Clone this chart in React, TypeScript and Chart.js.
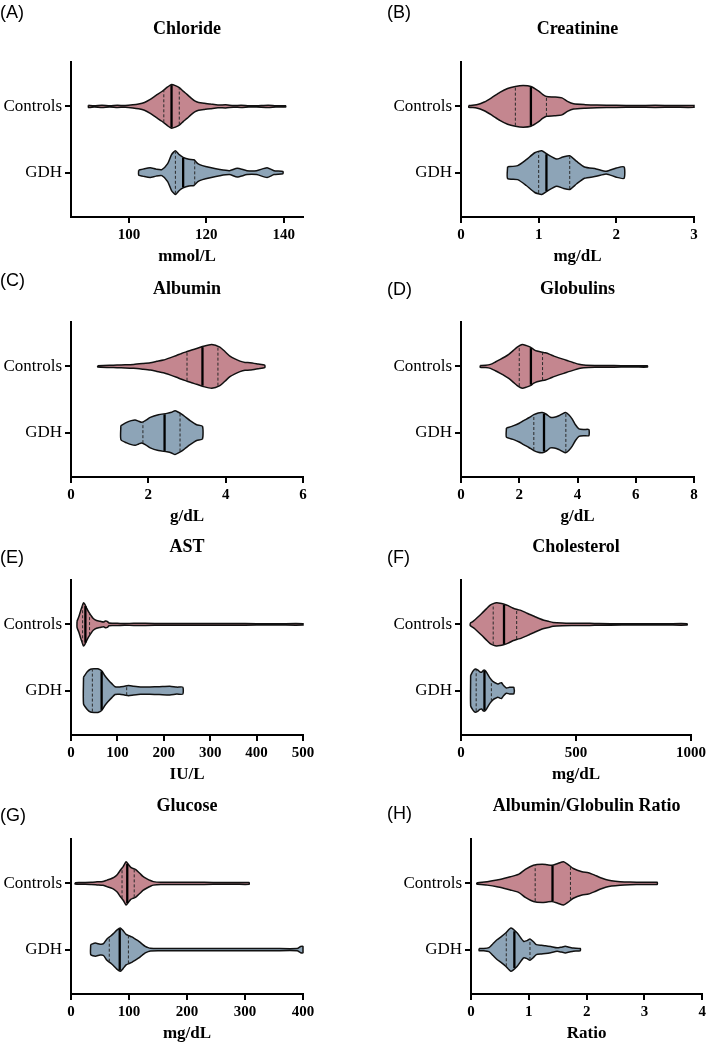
import React, { useEffect, useRef } from 'react';
import { Chart, registerables } from 'chart.js';

Chart.register(...registerables);

// ---------- data ----------
// x = measured value, w = relative violin half-width (1 = widest), q = [Q1, median, Q3]

// (A) Chloride, mmol/L
const chlorideCtrlX = [89.5, 91, 93, 95, 97, 99, 101, 102.5, 104, 105.5, 107, 108.5, 110, 111, 112, 113, 114, 115, 116, 117, 118, 119.5, 121, 123, 125, 127, 129, 131, 133, 136, 138, 140.5];
const chlorideCtrlW = [0.05, 0.03, 0.05, 0.03, 0.05, 0.04, 0.07, 0.11, 0.18, 0.32, 0.5, 0.68, 0.89, 1.0, 0.95, 0.86, 0.7, 0.55, 0.39, 0.25, 0.18, 0.14, 0.11, 0.06, 0.07, 0.04, 0.05, 0.03, 0.03, 0.05, 0.03, 0.03];
const chlorideCtrlQ = [109, 111, 113];
const chlorideGdhX = [102.5, 104, 105.5, 107, 108.5, 110, 111, 112, 113, 114, 115.5, 116.8, 117.8, 119, 121, 123.5, 126, 128, 130.5, 133, 135.7, 137.5, 139.8];
const chlorideGdhW = [0.11, 0.18, 0.22, 0.16, 0.14, 0.41, 0.82, 1.0, 0.82, 0.7, 0.61, 0.59, 0.41, 0.32, 0.23, 0.14, 0.09, 0.2, 0.09, 0.09, 0.22, 0.09, 0.05];
const chlorideGdhQ = [112, 114, 117];

// (B) Creatinine, mg/dL
const creatCtrlX = [0.1, 0.2, 0.3, 0.4, 0.5, 0.6, 0.7, 0.8, 0.9, 1.0, 1.05, 1.1, 1.2, 1.3, 1.37, 1.45, 1.6, 1.75, 2.0, 2.25, 2.5, 2.75, 3.0];
const creatCtrlW = [0.04, 0.07, 0.2, 0.41, 0.64, 0.82, 0.91, 0.95, 0.91, 0.7, 0.55, 0.45, 0.43, 0.39, 0.23, 0.12, 0.08, 0.06, 0.05, 0.04, 0.05, 0.04, 0.04];
const creatCtrlQ = [0.7, 0.9, 1.1];
const creatGdhX = [0.6, 0.73, 0.84, 0.95, 1.04, 1.12, 1.23, 1.31, 1.4, 1.49, 1.59, 1.74, 1.87, 2.0, 2.1];
const creatGdhW = [0.27, 0.32, 0.59, 0.91, 1.0, 0.82, 0.62, 0.71, 0.77, 0.51, 0.26, 0.17, 0.06, 0.21, 0.26];
const creatGdhQ = [1.0, 1.1, 1.4];

// (C) Albumin, g/dL
const albCtrlX = [0.69, 1.0, 1.19, 1.4, 1.62, 1.85, 2.05, 2.22, 2.39, 2.56, 2.73, 2.86, 2.99, 3.12, 3.25, 3.42, 3.64, 3.85, 3.98, 4.11, 4.24, 4.37, 4.5, 4.63, 4.84, 5.01];
const albCtrlW = [0.03, 0.05, 0.06, 0.07, 0.09, 0.13, 0.17, 0.23, 0.29, 0.39, 0.5, 0.59, 0.67, 0.75, 0.82, 0.92, 1.0, 0.88, 0.68, 0.47, 0.34, 0.24, 0.18, 0.17, 0.11, 0.06];
const albCtrlQ = [3.0, 3.4, 3.8];
const albGdhX = [1.29, 1.44, 1.56, 1.66, 1.75, 1.83, 1.94, 2.05, 2.26, 2.48, 2.6, 2.69, 2.78, 2.86, 2.97, 3.08, 3.25, 3.4];
const albGdhW = [0.32, 0.47, 0.55, 0.58, 0.52, 0.47, 0.57, 0.7, 0.82, 0.88, 0.93, 1.0, 0.93, 0.85, 0.7, 0.55, 0.36, 0.29];
const albGdhQ = [1.86, 2.42, 2.82];

// (D) Globulins, g/dL
const globCtrlX = [0.66, 0.85, 1.01, 1.18, 1.35, 1.5, 1.64, 1.8, 1.93, 2.1, 2.25, 2.38, 2.5, 2.61, 2.75, 2.9, 3.05, 3.19, 3.36, 3.53, 3.7, 3.87, 4.05, 4.22, 4.6, 5.0, 5.5, 6.0, 6.4];
const globCtrlW = [0.04, 0.05, 0.09, 0.2, 0.32, 0.43, 0.55, 0.73, 0.88, 1.0, 0.95, 0.88, 0.77, 0.7, 0.66, 0.62, 0.55, 0.47, 0.39, 0.32, 0.24, 0.17, 0.1, 0.06, 0.04, 0.04, 0.03, 0.03, 0.03];
const globCtrlQ = [2.0, 2.4, 2.8];
const globGdhX = [1.56, 1.81, 2.0, 2.15, 2.33, 2.5, 2.65, 2.79, 2.93, 3.07, 3.2, 3.36, 3.48, 3.59, 3.7, 3.82, 3.93, 4.05, 4.22, 4.39];
const globGdhW = [0.21, 0.32, 0.43, 0.55, 0.68, 0.82, 0.9, 0.92, 0.84, 0.7, 0.7, 0.77, 0.86, 0.92, 0.82, 0.62, 0.36, 0.17, 0.14, 0.14];
const globGdhQ = [2.5, 2.85, 3.6];

// (E) AST, IU/L
const astCtrlX = [13, 17, 21, 25, 27, 30, 34, 38, 43, 48, 55, 63, 70, 74, 78, 82, 90, 100, 115, 135, 160, 200, 250, 300, 350, 400, 450, 500];
const astCtrlW = [0.14, 0.36, 0.64, 0.89, 0.99, 0.91, 0.73, 0.57, 0.41, 0.27, 0.18, 0.14, 0.11, 0.15, 0.14, 0.06, 0.05, 0.05, 0.04, 0.05, 0.05, 0.04, 0.04, 0.04, 0.04, 0.03, 0.03, 0.03];
const astCtrlQ = [25, 31, 40];
const astGdhX = [27, 35, 42, 50, 58, 66, 73, 80, 88, 95, 105, 115, 124, 135, 150, 170, 190, 213, 228, 241];
const astGdhW = [0.61, 0.86, 0.98, 1.0, 1.0, 0.91, 0.68, 0.5, 0.32, 0.18, 0.17, 0.2, 0.23, 0.2, 0.17, 0.17, 0.18, 0.2, 0.16, 0.16];
const astGdhQ = [46, 66, 120];

// (F) Cholesterol, mg/dL
const cholCtrlX = [40, 55, 70, 90, 110, 127, 140, 155, 170, 185, 205, 225, 245, 260, 280, 300, 320, 340, 360, 380, 400, 440, 480, 520, 560, 600, 700, 800, 900, 983];
const cholCtrlW = [0.05, 0.16, 0.3, 0.5, 0.71, 0.88, 0.95, 0.99, 0.97, 0.93, 0.86, 0.75, 0.68, 0.64, 0.55, 0.45, 0.36, 0.27, 0.19, 0.14, 0.09, 0.06, 0.05, 0.05, 0.05, 0.04, 0.03, 0.03, 0.03, 0.03];
const cholCtrlQ = [140, 187, 242];
const cholGdhX = [42, 52, 62, 72, 82, 90, 97, 104, 112, 122, 132, 140, 150, 160, 168, 176, 185, 197, 211, 222, 230];
const cholGdhW = [0.7, 0.89, 0.99, 0.95, 0.86, 0.84, 0.93, 0.93, 0.82, 0.64, 0.5, 0.41, 0.35, 0.3, 0.34, 0.36, 0.23, 0.12, 0.15, 0.15, 0.15];
const cholGdhQ = [66, 102, 132];

// (G) Glucose, mg/dL
const gluCtrlX = [7, 20, 35, 45, 55, 62, 68, 74, 80, 85, 90, 95, 99, 103, 107, 111, 115, 119, 124, 131, 137, 142, 155, 175, 200, 230, 260, 285, 307];
const gluCtrlW = [0.03, 0.04, 0.05, 0.07, 0.09, 0.15, 0.2, 0.27, 0.41, 0.6, 0.77, 0.99, 0.86, 0.73, 0.68, 0.64, 0.55, 0.45, 0.32, 0.21, 0.13, 0.08, 0.05, 0.05, 0.05, 0.05, 0.04, 0.04, 0.04];
const gluCtrlQ = [88, 97, 109];
const gluGdhX = [34, 42, 50, 56, 62, 68, 73, 79, 85, 90, 95, 100, 105, 111, 117, 123, 128, 133, 137, 150, 200, 250, 300, 350, 390, 396, 400];
const gluGdhW = [0.23, 0.3, 0.25, 0.27, 0.49, 0.61, 0.73, 0.89, 0.99, 0.86, 0.7, 0.64, 0.58, 0.48, 0.38, 0.25, 0.15, 0.09, 0.06, 0.05, 0.05, 0.05, 0.05, 0.05, 0.05, 0.14, 0.14];
const gluGdhQ = [66, 84, 99];

// (H) Albumin/Globulin ratio
const agCtrlX = [0.1, 0.28, 0.45, 0.58, 0.68, 0.83, 0.94, 1.08, 1.23, 1.32, 1.4, 1.5, 1.6, 1.68, 1.77, 1.92, 2.03, 2.13, 2.23, 2.33, 2.43, 2.58, 2.75, 2.98, 3.22];
const agCtrlW = [0.03, 0.08, 0.15, 0.23, 0.3, 0.42, 0.64, 0.83, 0.88, 0.85, 0.83, 0.91, 0.99, 0.86, 0.68, 0.53, 0.49, 0.39, 0.27, 0.18, 0.12, 0.08, 0.06, 0.05, 0.05];
const agCtrlQ = [1.11, 1.41, 1.72];
const agGdhX = [0.14, 0.22, 0.31, 0.38, 0.45, 0.53, 0.6, 0.69, 0.8, 0.91, 0.97, 1.02, 1.08, 1.13, 1.22, 1.29, 1.38, 1.49, 1.56, 1.63, 1.7, 1.77, 1.89];
const agGdhW = [0.05, 0.05, 0.09, 0.27, 0.45, 0.61, 0.76, 0.99, 0.76, 0.38, 0.41, 0.49, 0.36, 0.23, 0.2, 0.18, 0.14, 0.08, 0.11, 0.15, 0.11, 0.07, 0.05];
const agGdhQ = [0.61, 0.75, 1.02];

// axis tick values
const chlorideTicks = [100, 120, 140];
const creatTicks = [0, 1, 2, 3];
const albTicks = [0, 2, 4, 6];
const globTicks = [0, 2, 4, 6, 8];
const astTicks = [0, 100, 200, 300, 400, 500];
const cholTicks = [0, 500, 1000];
const gluTicks = [0, 100, 200, 300, 400];
const agTicks = [0, 1, 2, 3, 4];

const groupLabels = ['GDH', 'Controls'];

// ---------- styling ----------
const PINK = '#C4868F';
const BLUE = '#8DA4B7';
const SERIF = "'Liberation Serif', 'Times New Roman', serif";
const SANS = "'Liberation Sans', Arial, sans-serif";
const HALF = 0.33; // widest half-width in y units
const CANVAS_H = 270;

type Violin = { x: number[]; w: number[]; q: number[] };
type Panel = {
  tag: string; title: string; unit: string; min: number; max: number; ticks: number[];
  ctrl: Violin; gdh: Violin;
  left: number; top: number; width: number; yAxisW: number; rightPad: number;
  tagX: number; tagY: number;
};

const ROWS = [0, 260, 518, 777];
const L = { left: 0, width: 354, yAxisW: 71, rightPad: 51, tagX: 0 };
const R = { left: 354, width: 355, yAxisW: 107, rightPad: 15, tagX: 387 };

const panels: Panel[] = [
  { tag: '(A)', title: 'Chloride', unit: 'mmol/L', min: 85, max: 145, ticks: chlorideTicks,
    ctrl: { x: chlorideCtrlX, w: chlorideCtrlW, q: chlorideCtrlQ }, gdh: { x: chlorideGdhX, w: chlorideGdhW, q: chlorideGdhQ },
    ...L, top: ROWS[0], tagY: 12 },
  { tag: '(B)', title: 'Creatinine', unit: 'mg/dL', min: 0, max: 3, ticks: creatTicks,
    ctrl: { x: creatCtrlX, w: creatCtrlW, q: creatCtrlQ }, gdh: { x: creatGdhX, w: creatGdhW, q: creatGdhQ },
    ...R, top: ROWS[0], tagY: 12 },
  { tag: '(C)', title: 'Albumin', unit: 'g/dL', min: 0, max: 6, ticks: albTicks,
    ctrl: { x: albCtrlX, w: albCtrlW, q: albCtrlQ }, gdh: { x: albGdhX, w: albGdhW, q: albGdhQ },
    ...L, top: ROWS[1], tagY: 280 },
  { tag: '(D)', title: 'Globulins', unit: 'g/dL', min: 0, max: 8, ticks: globTicks,
    ctrl: { x: globCtrlX, w: globCtrlW, q: globCtrlQ }, gdh: { x: globGdhX, w: globGdhW, q: globGdhQ },
    ...R, top: ROWS[1], tagY: 289 },
  { tag: '(E)', title: 'AST', unit: 'IU/L', min: 0, max: 500, ticks: astTicks,
    ctrl: { x: astCtrlX, w: astCtrlW, q: astCtrlQ }, gdh: { x: astGdhX, w: astGdhW, q: astGdhQ },
    ...L, top: ROWS[2], tagY: 557 },
  { tag: '(F)', title: 'Cholesterol', unit: 'mg/dL', min: 0, max: 1000, ticks: cholTicks,
    ctrl: { x: cholCtrlX, w: cholCtrlW, q: cholCtrlQ }, gdh: { x: cholGdhX, w: cholGdhW, q: cholGdhQ },
    ...R, top: ROWS[2], tagY: 557 },
  { tag: '(G)', title: 'Glucose', unit: 'mg/dL', min: 0, max: 400, ticks: gluTicks,
    ctrl: { x: gluCtrlX, w: gluCtrlW, q: gluCtrlQ }, gdh: { x: gluGdhX, w: gluGdhW, q: gluGdhQ },
    ...L, top: ROWS[3], tagY: 815 },
  { tag: '(H)', title: 'Albumin/Globulin Ratio', unit: 'Ratio', min: 0, max: 4, ticks: agTicks,
    ctrl: { x: agCtrlX, w: agCtrlW, q: agCtrlQ }, gdh: { x: agGdhX, w: agGdhW, q: agGdhQ },
    ...R, yAxisW: 117, rightPad: 6, top: ROWS[3], tagY: 813 },
];

function widthAt(xs: number[], ws: number[], v: number): number {
  if (v <= xs[0]) return ws[0];
  for (let i = 1; i < xs.length; i++) {
    if (v <= xs[i]) {
      const t = (v - xs[i - 1]) / (xs[i] - xs[i - 1]);
      return ws[i - 1] + t * (ws[i] - ws[i - 1]);
    }
  }
  return ws[ws.length - 1];
}

function violinDatasets(v: Violin, center: number, color: string): any[] {
  const upper = v.x.map((x, i) => ({ x, y: center + v.w[i] * HALF }));
  const lower = v.x.map((x, i) => ({ x, y: center - v.w[i] * HALF })).reverse();
  const shape = [...upper, ...lower, upper[0]];
  const out: any[] = [
    {
      data: shape,
      fill: 'shape',
      backgroundColor: color,
      borderColor: '#111',
      borderWidth: 1.5,
      pointRadius: 0,
      tension: 0.2,
      clip: false,
      order: 2,
    },
  ];
  v.q.forEach((qv, i) => {
    const h = widthAt(v.x, v.w, qv) * HALF * 0.97;
    const isMed = i === 1;
    out.push({
      data: [{ x: qv, y: center - h }, { x: qv, y: center + h }],
      borderColor: isMed ? '#000' : '#2a2a2a',
      borderWidth: isMed ? 2.3 : 1,
      borderDash: isMed ? [] : [3, 2],
      pointRadius: 0,
      fill: false,
      tension: 0,
      clip: false,
      order: 0,
    });
  });
  return out;
}

function ViolinPanel({ p }: { p: Panel }) {
  const ref = useRef<HTMLCanvasElement>(null);
  useEffect(() => {
    const canvas = ref.current;
    if (!canvas) return;
    const axisCommon = {
      border: { display: true, color: '#000', width: 2 },
      grid: { display: true, drawOnChartArea: false, drawTicks: true, tickLength: 6, color: '#000', lineWidth: 2 },
    };
    const chart = new Chart(canvas, {
      type: 'line',
      data: {
        datasets: [
          ...violinDatasets(p.ctrl, 1, PINK),
          ...violinDatasets(p.gdh, 0, BLUE),
        ],
      },
      options: {
        responsive: false,
        animation: false,
        events: [],
        layout: { padding: { left: 0, right: p.rightPad, top: 0, bottom: 0 } },
        plugins: {
          legend: { display: false },
          tooltip: { enabled: false },
          title: {
            display: true,
            text: p.title,
            fullSize: false,
            color: '#000',
            font: { family: SERIF, size: 18, weight: 'bold' },
            padding: { top: 19, bottom: 21.4 },
          },
        },
        scales: {
          x: {
            type: 'linear',
            min: p.min,
            max: p.max,
            afterBuildTicks: (s: any) => { s.ticks = p.ticks.map((v) => ({ value: v })); },
            afterFit: (s: any) => { s.height = CANVAS_H - 217; },
            ...axisCommon,
            ticks: {
              color: '#000', font: { family: SERIF, size: 15, weight: 'bold' }, padding: 3,
              maxRotation: 0, autoSkip: false, callback: (v: any) => String(v),
            },
            title: { display: true, text: p.unit, color: '#000', font: { family: SERIF, size: 17, weight: 'bold' }, padding: { top: 0, bottom: 3 } },
          },
          y: {
            type: 'linear',
            min: -0.67,
            max: 1.67,
            afterBuildTicks: (s: any) => { s.ticks = [{ value: 0 }, { value: 1 }]; },
            afterFit: (s: any) => { s.width = p.yAxisW; },
            ...axisCommon,
            ticks: {
              color: '#000',
              font: { family: SERIF, size: 17 },
              padding: 3,
              autoSkip: false,
              callback: (v: any) => groupLabels[Number(v)] ?? '',
            },
          },
        },
      } as any,
    });
    return () => chart.destroy();
  }, [p]);
  return (
    <canvas
      ref={ref}
      width={p.width}
      height={CANVAS_H}
      style={{ position: 'absolute', left: p.left, top: p.top, width: p.width, height: CANVAS_H }}
    />
  );
}

export default function App() {
  return (
    <div style={{ position: 'absolute', left: 0, top: 0, width: 709, height: 1044, overflow: 'hidden', background: '#fff' }}>
      {panels.map((p) => (
        <ViolinPanel key={p.tag} p={p} />
      ))}
      {panels.map((p) => (
        <div
          key={'t' + p.tag}
          style={{
            position: 'absolute', left: p.tagX, top: p.tagY - 11, height: 22, lineHeight: '22px',
            fontFamily: SANS, fontSize: 18, color: '#000', whiteSpace: 'nowrap',
          }}
        >
          {p.tag}
        </div>
      ))}
    </div>
  );
}
